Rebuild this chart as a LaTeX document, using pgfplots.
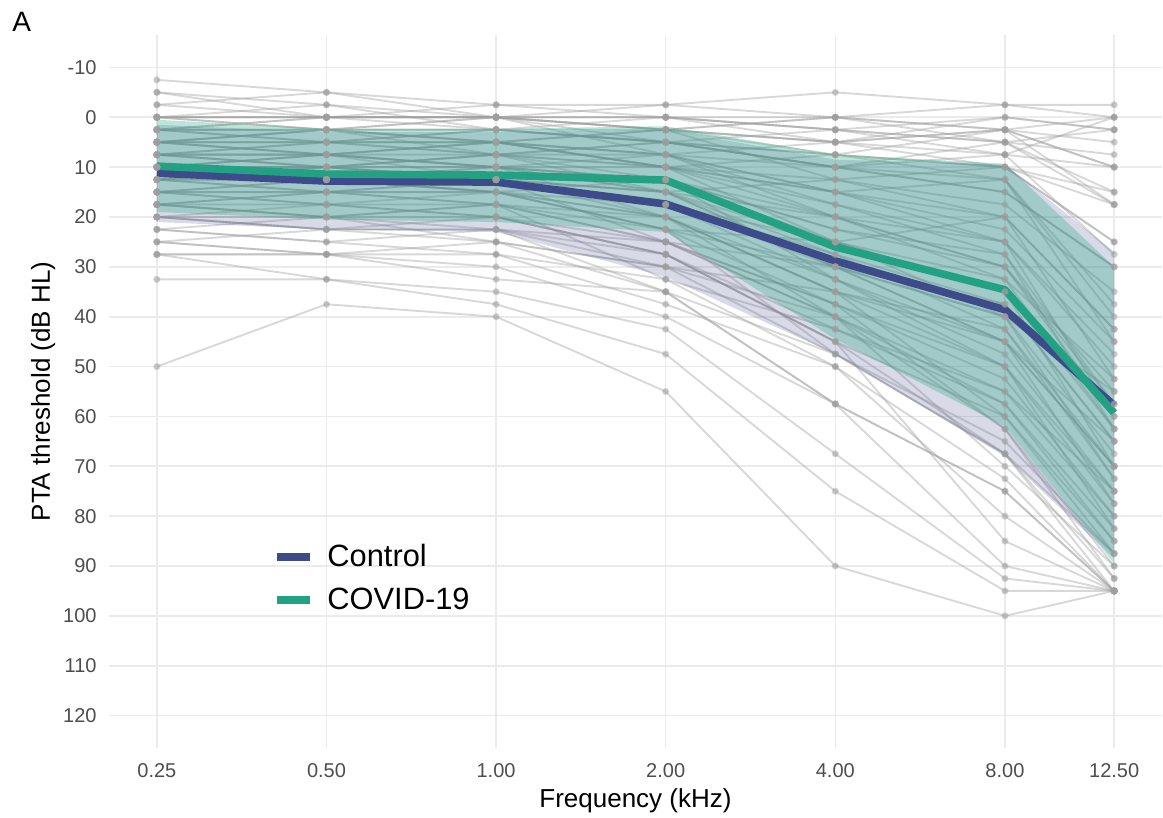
\documentclass[border=0pt]{standalone}
\usepackage{fontspec}
\setmainfont{Liberation Sans}
\usepackage{pgfplots}
\pgfplotsset{compat=1.18}
\definecolor{ctrl}{HTML}{3E4B8A}
\definecolor{covid}{HTML}{22A282}
\definecolor{ctrlfill}{HTML}{414487}
\definecolor{covfill}{HTML}{22A884}
\definecolor{gridc}{HTML}{EBEBEB}
\definecolor{tickc}{HTML}{4D4D4D}
\definecolor{subjc}{HTML}{9E9E9E}
\begin{document}
\begin{tikzpicture}
\path[use as bounding box] (-54.5pt,-35pt) rectangle (527pt,374pt);
\begin{axis}[
  name=ax, at={(0,0)}, anchor=south west,
  scale only axis, width=526.5pt, height=356.5pt,
  xmode=log, log basis x=2,
  xmin=0.2056, xmax=15.20,
  ymin=-16.5, ymax=126.5, y dir=reverse,
  xtick={0.25,0.5,1,2,4,8,12.5},
  xticklabels={0.25,0.50,1.00,2.00,4.00,8.00,12.50},
  ytick={-10,0,10,20,30,40,50,60,70,80,90,100,110,120},
  yticklabels={-10,0,10,20,30,40,50,60,70,80,90,100,110,120},
  /pgf/number format/assume math mode=true,
  grid=major, major grid style={draw=gridc, line width=0.8pt},
  axis line style={draw=none},
  major tick length=0pt,
  tick label style={font=\fontsize{10}{12}\selectfont, text=tickc, inner sep=0pt},
  xticklabel style={anchor=north, yshift=-7.5pt},
  yticklabel style={anchor=east, xshift=-6pt},
  xlabel={Frequency (kHz)},
  ylabel={PTA threshold (dB HL)},
  label style={font=\fontsize{13}{15}\selectfont, inner sep=0pt},
  xlabel style={at={(axis description cs:0.5,-0.08275)}, anchor=base},
  ylabel style={at={(axis description cs:-0.05603,0.5)}, anchor=base},
  subj/.style={forget plot, draw=subjc, draw opacity=0.4, line width=0.95pt,
    mark=*, mark size=1.3pt, mark options={fill=subjc, draw=none, fill opacity=0.45}},
  legend style={at={(axis description cs:0.1558,0.2377)}, anchor=west,
    draw=none, fill=none, inner sep=0pt, row sep=9pt, column sep=6.5pt,
    font=\fontsize{15.4}{18}\selectfont, nodes={inner sep=0pt}},
  legend cell align=left,
  legend image code/.code={\draw[#1, line width=4pt] (0pt,0pt) -- (16.5pt,0pt);},
]
% individual subjects
\addplot[subj] coordinates {(0.25,-7.5)(0.5,-5)(1,-2.5)(2,-2.5)(4,-5)(8,-2.5)(12.5,-2.5)};
\addplot[subj] coordinates {(0.25,-5)(0.5,-2.5)(1,0)(2,0)(4,0)(8,2.5)(12.5,0)};
\addplot[subj] coordinates {(0.25,-5)(0.5,0)(1,-2.5)(2,0)(4,2.5)(8,0)(12.5,2.5)};
\addplot[subj] coordinates {(0.25,-2.5)(0.5,-5)(1,0)(2,-2.5)(4,0)(8,2.5)(12.5,5)};
\addplot[subj] coordinates {(0.25,0)(0.5,0)(1,0)(2,2.5)(4,5)(8,0)(12.5,2.5)};
\addplot[subj] coordinates {(0.25,0)(0.5,-2.5)(1,2.5)(2,0)(4,2.5)(8,5)(12.5,7.5)};
\addplot[subj] coordinates {(0.25,0)(0.5,0)(1,0)(2,0)(4,5)(8,2.5)(12.5,10)};
\addplot[subj] coordinates {(0.25,2.5)(0.5,0)(1,0)(2,5)(4,2.5)(8,7.5)(12.5,0)};
\addplot[subj] coordinates {(0.25,2.5)(0.5,2.5)(1,5)(2,2.5)(4,7.5)(8,10)(12.5,15)};
\addplot[subj] coordinates {(0.25,2.5)(0.5,5)(1,2.5)(2,5)(4,10)(8,5)(12.5,17.5)};
\addplot[subj] coordinates {(0.25,5)(0.5,2.5)(1,5)(2,7.5)(4,5)(8,10)(12.5,25)};
\addplot[subj] coordinates {(0.25,5)(0.5,5)(1,7.5)(2,5)(4,10)(8,15)(12.5,30)};
\addplot[subj] coordinates {(0.25,5)(0.5,7.5)(1,5)(2,10)(4,12.5)(8,20)(12.5,42.5)};
\addplot[subj] coordinates {(0.25,7.5)(0.5,5)(1,7.5)(2,7.5)(4,15)(8,12.5)(12.5,37.5)};
\addplot[subj] coordinates {(0.25,7.5)(0.5,7.5)(1,10)(2,7.5)(4,17.5)(8,25)(12.5,50)};
\addplot[subj] coordinates {(0.25,7.5)(0.5,10)(1,7.5)(2,12.5)(4,20)(8,30)(12.5,55)};
\addplot[subj] coordinates {(0.25,10)(0.5,7.5)(1,10)(2,10)(4,15)(8,22.5)(12.5,45)};
\addplot[subj] coordinates {(0.25,10)(0.5,10)(1,12.5)(2,15)(4,25)(8,35)(12.5,62.5)};
\addplot[subj] coordinates {(0.25,10)(0.5,12.5)(1,10)(2,12.5)(4,22.5)(8,27.5)(12.5,57.5)};
\addplot[subj] coordinates {(0.25,12.5)(0.5,10)(1,12.5)(2,15)(4,30)(8,40)(12.5,67.5)};
\addplot[subj] coordinates {(0.25,12.5)(0.5,15)(1,12.5)(2,17.5)(4,27.5)(8,37.5)(12.5,65)};
\addplot[subj] coordinates {(0.25,15)(0.5,12.5)(1,15)(2,12.5)(4,32.5)(8,45)(12.5,70)};
\addplot[subj] coordinates {(0.25,15)(0.5,15)(1,17.5)(2,20)(4,35)(8,42.5)(12.5,72.5)};
\addplot[subj] coordinates {(0.25,17.5)(0.5,15)(1,15)(2,22.5)(4,37.5)(8,50)(12.5,75)};
\addplot[subj] coordinates {(0.25,17.5)(0.5,20)(1,17.5)(2,25)(4,40)(8,55)(12.5,80)};
\addplot[subj] coordinates {(0.25,20)(0.5,17.5)(1,20)(2,27.5)(4,45)(8,60)(12.5,85)};
\addplot[subj] coordinates {(0.25,20)(0.5,22.5)(1,22.5)(2,30)(4,47.5)(8,65)(12.5,87.5)};
\addplot[subj] coordinates {(0.25,22.5)(0.5,20)(1,25)(2,35)(4,57.5)(8,75)(12.5,95)};
\addplot[subj] coordinates {(0.25,25)(0.5,27.5)(1,27.5)(2,37.5)(4,50)(8,72.5)(12.5,95)};
\addplot[subj] coordinates {(0.25,27.5)(0.5,27.5)(1,30)(2,40)(4,57.5)(8,90)(12.5,95)};
\addplot[subj] coordinates {(0.25,27.5)(0.5,32.5)(1,35)(2,42.5)(4,67.5)(8,92.5)(12.5,95)};
\addplot[subj] coordinates {(0.25,32.5)(0.5,32.5)(1,37.5)(2,47.5)(4,75)(8,95)(12.5,95)};
\addplot[subj] coordinates {(0.25,50)(0.5,37.5)(1,40)(2,55)(4,90)(8,100)(12.5,95)};
\addplot[subj] coordinates {(0.25,0)(0.5,2.5)(1,0)(2,7.5)(4,20)(8,30)(12.5,60)};
\addplot[subj] coordinates {(0.25,2.5)(0.5,5)(1,5)(2,10)(4,25)(8,35)(12.5,70)};
\addplot[subj] coordinates {(0.25,5)(0.5,2.5)(1,7.5)(2,15)(4,30)(8,45)(12.5,77.5)};
\addplot[subj] coordinates {(0.25,7.5)(0.5,10)(1,10)(2,20)(4,35)(8,50)(12.5,82.5)};
\addplot[subj] coordinates {(0.25,10)(0.5,7.5)(1,12.5)(2,25)(4,40)(8,62.5)(12.5,90)};
\addplot[subj] coordinates {(0.25,12.5)(0.5,12.5)(1,15)(2,22.5)(4,47.5)(8,67.5)(12.5,95)};
\addplot[subj] coordinates {(0.25,15)(0.5,17.5)(1,17.5)(2,32.5)(4,50)(8,80)(12.5,95)};
\addplot[subj] coordinates {(0.25,17.5)(0.5,17.5)(1,20)(2,27.5)(4,45)(8,85)(12.5,95)};
\addplot[subj] coordinates {(0.25,20)(0.5,20)(1,22.5)(2,35)(4,57.5)(8,75)(12.5,95)};
\addplot[subj] coordinates {(0.25,10)(0.5,12.5)(1,15)(2,17.5)(4,25)(8,32.5)(12.5,52.5)};
\addplot[subj] coordinates {(0.25,7.5)(0.5,7.5)(1,10)(2,12.5)(4,22.5)(8,30)(12.5,57.5)};
\addplot[subj] coordinates {(0.25,5)(0.5,7.5)(1,7.5)(2,10)(4,17.5)(8,27.5)(12.5,62.5)};
\addplot[subj] coordinates {(0.25,12.5)(0.5,10)(1,10)(2,15)(4,20)(8,25)(12.5,47.5)};
\addplot[subj] coordinates {(0.25,15)(0.5,15)(1,12.5)(2,17.5)(4,30)(8,37.5)(12.5,65)};
\addplot[subj] coordinates {(0.25,2.5)(0.5,0)(1,2.5)(2,2.5)(4,12.5)(8,17.5)(12.5,35)};
\addplot[subj] coordinates {(0.25,0)(0.5,2.5)(1,2.5)(2,5)(4,7.5)(8,12.5)(12.5,40)};
\addplot[subj] coordinates {(0.25,10)(0.5,10)(1,7.5)(2,10)(4,15)(8,20)(12.5,52.5)};
\addplot[subj] coordinates {(0.25,12.5)(0.5,15)(1,15)(2,20)(4,32.5)(8,47.5)(12.5,75)};
\addplot[subj] coordinates {(0.25,17.5)(0.5,20)(1,20)(2,27.5)(4,42.5)(8,57.5)(12.5,85)};
\addplot[subj] coordinates {(0.25,20)(0.5,22.5)(1,20)(2,25)(4,37.5)(8,52.5)(12.5,80)};
\addplot[subj] coordinates {(0.25,25)(0.5,22.5)(1,25)(2,30)(4,40)(8,70)(12.5,90)};
\addplot[subj] coordinates {(0.25,7.5)(0.5,5)(1,5)(2,7.5)(4,10)(8,15)(12.5,30)};
\addplot[subj] coordinates {(0.25,-2.5)(0.5,0)(1,0)(2,2.5)(4,5)(8,7.5)(12.5,10)};
\addplot[subj] coordinates {(0.25,5)(0.5,5)(1,2.5)(2,5)(4,7.5)(8,10)(12.5,17.5)};
\addplot[subj] coordinates {(0.25,10)(0.5,12.5)(1,12.5)(2,15)(4,27.5)(8,42.5)(12.5,70)};
\addplot[subj] coordinates {(0.25,15)(0.5,12.5)(1,15)(2,20)(4,35)(8,60)(12.5,87.5)};
\addplot[subj] coordinates {(0.25,22.5)(0.5,25)(1,22.5)(2,27.5)(4,45)(8,67.5)(12.5,92.5)};
\addplot[subj] coordinates {(0.25,27.5)(0.5,27.5)(1,25)(2,30)(4,35)(8,45)(12.5,65)};
\addplot[subj] coordinates {(0.25,0)(0.5,0)(1,0)(2,2.5)(4,0)(8,-2.5)(12.5,0)};
\addplot[subj] coordinates {(0.25,2.5)(0.5,2.5)(1,0)(2,2.5)(4,5)(8,2.5)(12.5,10)};
\addplot[subj] coordinates {(0.25,5)(0.5,5)(1,5)(2,2.5)(4,0)(8,5)(12.5,15)};
\addplot[subj] coordinates {(0.25,7.5)(0.5,7.5)(1,5)(2,10)(4,7.5)(8,2.5)(12.5,17.5)};
\addplot[subj] coordinates {(0.25,10)(0.5,10)(1,7.5)(2,5)(4,10)(8,7.5)(12.5,27.5)};
\addplot[subj] coordinates {(0.25,12.5)(0.5,12.5)(1,10)(2,15)(4,12.5)(8,10)(12.5,25)};
\addplot[subj] coordinates {(0.25,15)(0.5,17.5)(1,15)(2,22.5)(4,25)(8,20)(12.5,42.5)};
\addplot[subj] coordinates {(0.25,20)(0.5,22.5)(1,22.5)(2,25)(4,30)(8,40)(12.5,55)};
\addplot[subj] coordinates {(0.25,22.5)(0.5,25)(1,27.5)(2,32.5)(4,42.5)(8,55)(12.5,75)};
\addplot[subj] coordinates {(0.25,17.5)(0.5,15)(1,17.5)(2,25)(4,37.5)(8,62.5)(12.5,92.5)};
\addplot[subj] coordinates {(0.25,2.5)(0.5,2.5)(1,5)(2,7.5)(4,15)(8,25)(12.5,60)};
\addplot[subj] coordinates {(0.25,5)(0.5,7.5)(1,10)(2,12.5)(4,25)(8,40)(12.5,72.5)};
\addplot[subj] coordinates {(0.25,7.5)(0.5,10)(1,12.5)(2,17.5)(4,32.5)(8,50)(12.5,77.5)};
\addplot[subj] coordinates {(0.25,12.5)(0.5,10)(1,12.5)(2,20)(4,40)(8,57.5)(12.5,82.5)};
\addplot[subj] coordinates {(0.25,0)(0.5,0)(1,0)(2,0)(4,2.5)(8,5)(12.5,2.5)};
\addplot[subj] coordinates {(0.25,5)(0.5,2.5)(1,2.5)(2,5)(4,10)(8,12.5)(12.5,45)};
\addplot[subj] coordinates {(0.25,10)(0.5,7.5)(1,5)(2,10)(4,20)(8,32.5)(12.5,62.5)};
\addplot[subj] coordinates {(0.25,17.5)(0.5,20)(1,17.5)(2,22.5)(4,30)(8,45)(12.5,70)};
\addplot[subj] coordinates {(0.25,25)(0.5,27.5)(1,32.5)(2,35)(4,47.5)(8,67.5)(12.5,87.5)};
% ribbons
\addplot[forget plot, draw=none, fill=ctrlfill, fill opacity=0.2] coordinates {
  (0.25,1.5)(0.5,3)(1,3)(2,2.5)(4,8.5)(8,9.5)(12.5,27)
  (12.5,88.5)(8,68)(4,47.5)(2,32)(1,23)(0.5,22.5)(0.25,21)} -- cycle;
\addplot[forget plot, draw=none, fill=covfill, fill opacity=0.3] coordinates {
  (0.25,0.5)(0.5,2.3)(1,2.3)(2,1.8)(4,7.5)(8,9.3)(12.5,30)
  (12.5,89.5)(8,62)(4,44.5)(2,23)(1,21)(0.5,20.5)(0.25,19)} -- cycle;
% group means
\addplot[draw=ctrl, line width=3.8pt, line join=round] coordinates {
  (0.25,11.2)(0.5,12.8)(1,13)(2,17.4)(4,28.8)(8,38.6)(12.5,57.8)};
\addlegendentry{Control}
\addplot[draw=covid, line width=3.8pt, line join=round] coordinates {
  (0.25,9.8)(0.5,11.4)(1,11.6)(2,12.6)(4,26)(8,34.6)(12.5,59.3)};
\addlegendentry{COVID-19}
\end{axis}
\node[anchor=base west, inner sep=0pt, font=\fontsize{14}{16}\selectfont] at (-48.5pt,358pt) {A};
\end{tikzpicture}
\end{document}
